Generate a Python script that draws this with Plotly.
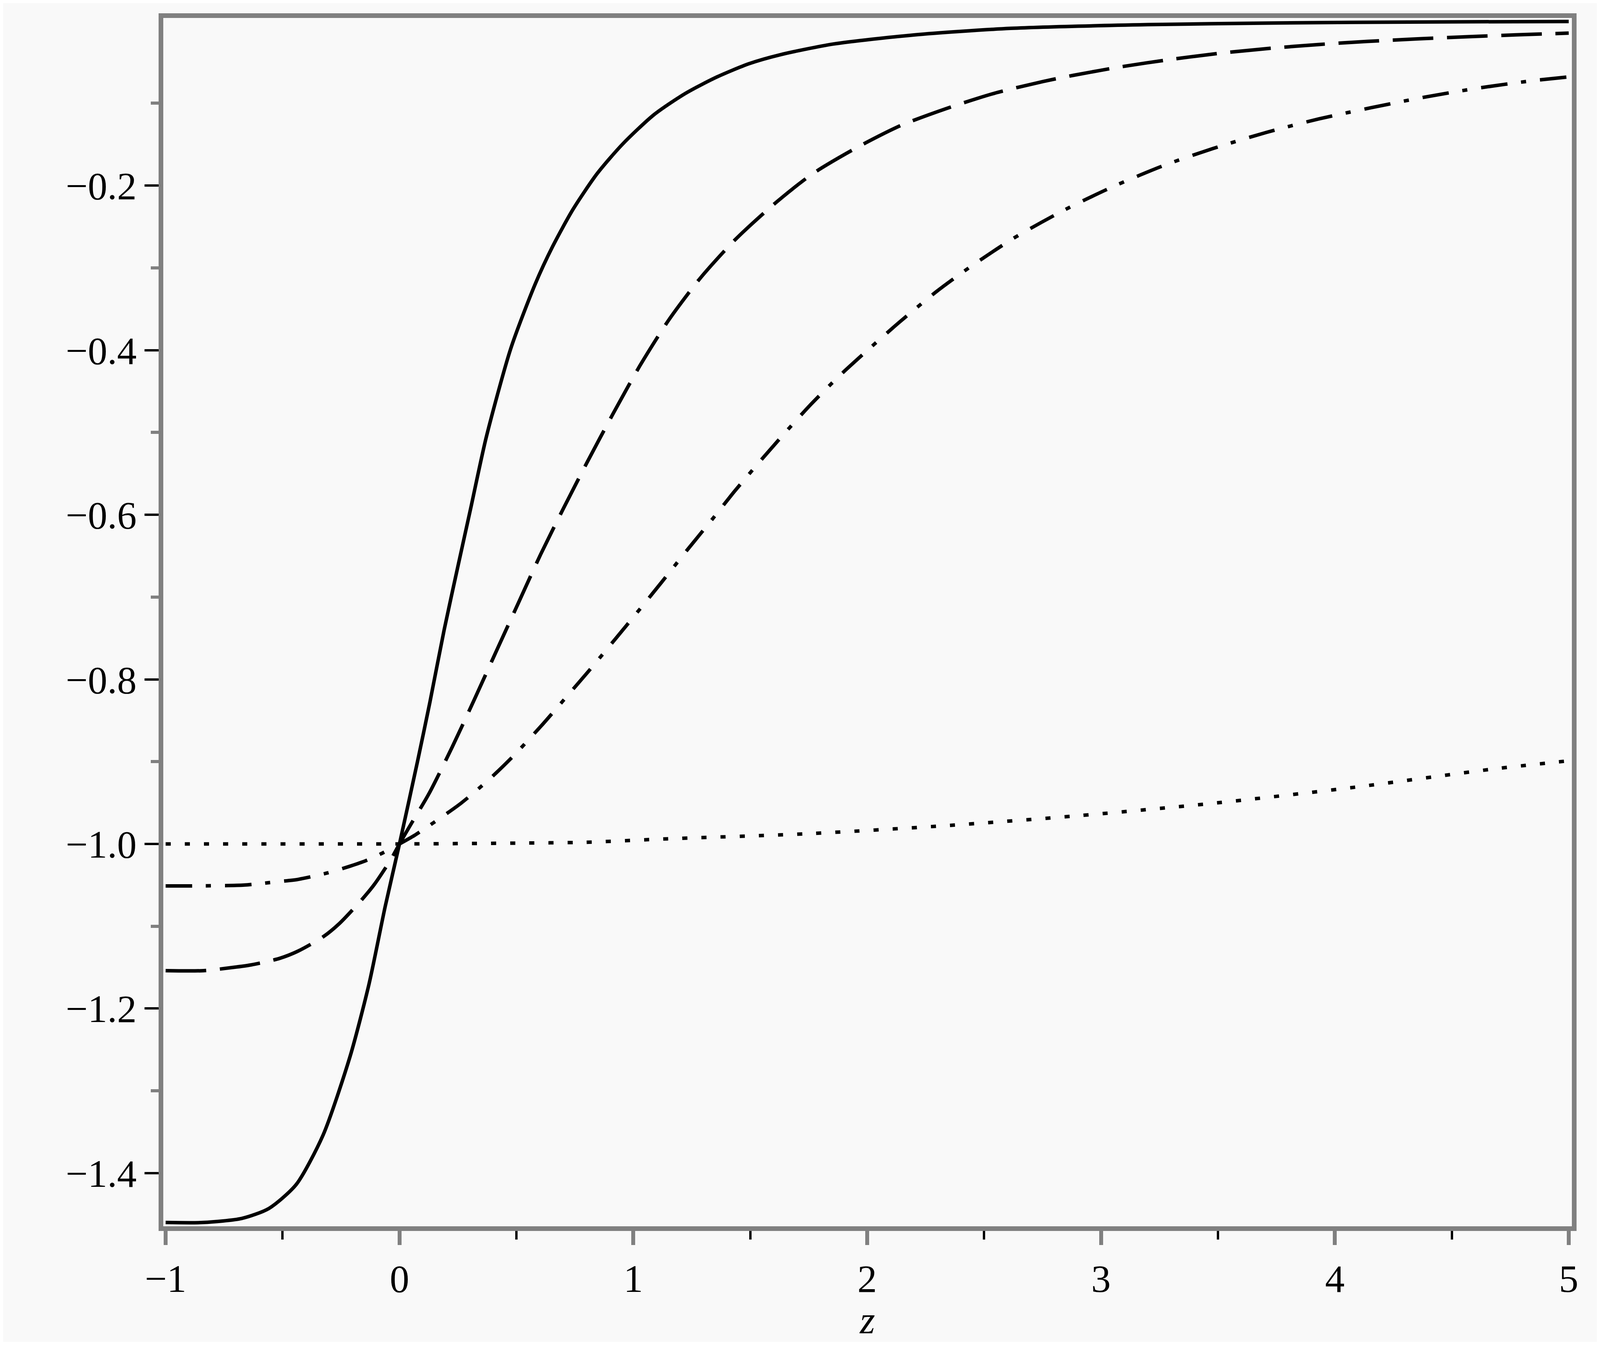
import plotly.graph_objects as go

# ---------------- data ----------------
solid_x = [-1.0, -0.84, -0.674, -0.559, -0.442, -0.327, -0.211, -0.130, -0.061, 0.0,
           0.077, 0.130, 0.191, 0.252, 0.304, 0.371, 0.476, 0.580, 0.655, 0.742,
           0.844, 0.953, 1.088, 1.223, 1.358, 1.494, 1.629, 1.856, 2.2, 2.614,
           3.2, 3.726, 4.4, 5.0]
solid_y = [-1.460, -1.460, -1.455, -1.443, -1.414, -1.354, -1.258, -1.170, -1.076, -1.000,
           -0.900, -0.828, -0.740, -0.660, -0.593, -0.506, -0.398, -0.320, -0.274, -0.229,
           -0.186, -0.150, -0.114, -0.088, -0.068, -0.052, -0.041, -0.028, -0.017, -0.009,
           -0.0045, -0.0025, -0.0012, -0.0006]

dash_x = [-1.0, -0.838, -0.710, -0.635, -0.512, -0.432, -0.327, -0.258, -0.165, -0.107,
          -0.037, 0.0, 0.047, 0.126, 0.226, 0.321, 0.417, 0.512, 0.604, 0.700,
          0.803, 0.912, 1.028, 1.150, 1.285, 1.433, 1.596, 1.765, 1.955, 2.144,
          2.347, 2.543, 2.753, 2.883, 3.090, 3.297, 3.511, 3.726, 3.932, 4.139,
          4.354, 4.559, 4.774, 5.0]
dash_y = [-1.154, -1.154, -1.150, -1.147, -1.139, -1.130, -1.113, -1.097, -1.069, -1.049,
          -1.019, -1.000, -0.977, -0.939, -0.882, -0.824, -0.764, -0.705, -0.648, -0.593,
          -0.536, -0.478, -0.419, -0.364, -0.313, -0.2665, -0.224, -0.186, -0.154, -0.127,
          -0.1056, -0.088, -0.0735, -0.066, -0.0555, -0.0468, -0.0392, -0.0332, -0.0286, -0.0249,
          -0.0218, -0.0193, -0.0169, -0.0148]

dashdot_x = [-1.0, -0.895, -0.664, -0.524, -0.432, -0.304, -0.211, -0.141, -0.072, 0.0,
             0.065, 0.126, 0.261, 0.386, 0.491, 0.608, 0.721, 0.812, 0.926, 1.030,
             1.121, 1.230, 1.339, 1.433, 1.542, 1.650, 1.759, 1.880, 2.002, 2.138,
             2.300, 2.435, 2.624, 2.836, 3.042, 3.265, 3.479, 3.709, 3.932, 4.154,
             4.385, 4.615, 4.845, 5.0]
dashdot_y = [-1.051, -1.051, -1.050, -1.046, -1.043, -1.035, -1.027, -1.020, -1.011, -1.000,
             -0.9895, -0.978, -0.951, -0.921, -0.892, -0.856, -0.819, -0.789, -0.750, -0.714,
             -0.682, -0.643, -0.605, -0.5715, -0.535, -0.500, -0.466, -0.4316, -0.400, -0.366,
             -0.328, -0.300, -0.2644, -0.2308, -0.2025, -0.176, -0.155, -0.1353, -0.119, -0.1055,
             -0.0925, -0.0815, -0.0726, -0.068]

dot_x = [-1.0, -0.5, 0.0, 0.5, 0.795, 1.144, 1.737, 2.325, 2.912, 3.500, 4.088, 4.676, 5.0]
dot_y = [-1.000, -1.000, -1.000, -0.999, -0.998, -0.9938, -0.9877, -0.978, -0.9655, -0.950,
         -0.931, -0.909, -0.899]

x_tick_vals = [-1, 0, 1, 2, 3, 4, 5]
x_tick_text = ["\u22121", "0", "1", "2", "3", "4", "5"]
x_minor_vals = [-0.5, 0.5, 1.5, 2.5, 3.5, 4.5]
y_tick_vals = [-1.4, -1.2, -1.0, -0.8, -0.6, -0.4, -0.2]
y_tick_text = ["\u22121.4", "\u22121.2", "\u22121.0", "\u22120.8", "\u22120.6", "\u22120.4", "\u22120.2"]
y_minor_vals = [-1.3, -1.1, -0.9, -0.7, -0.5, -0.3, -0.1]
x_title = "z"

# ---------------- figure ----------------
BG = "#f9f9f9"
AXIS_GREY = "#808080"
LW = 9
SERIF = "Liberation Serif"

fig = go.Figure()
fig.add_trace(go.Scatter(x=dot_x, y=dot_y, mode="lines", showlegend=False,
                         line=dict(color="black", width=LW, dash="13px,36px", shape="spline", smoothing=0.7)))
fig.add_trace(go.Scatter(x=dashdot_x, y=dashdot_y, mode="lines", showlegend=False,
                         line=dict(color="black", width=LW, dash="68px,35px,13px,36px", shape="spline", smoothing=0.7)))
fig.add_trace(go.Scatter(x=dash_x, y=dash_y, mode="lines", showlegend=False,
                         line=dict(color="black", width=LW, dash="104px,35px", shape="spline", smoothing=0.7)))
fig.add_trace(go.Scatter(x=solid_x, y=solid_y, mode="lines", showlegend=False,
                         line=dict(color="black", width=LW, shape="spline", smoothing=0.7)))

fig.update_layout(
    autosize=True,
    paper_bgcolor=BG, plot_bgcolor=BG,
    margin=dict(l=0, r=0, t=0, b=0, pad=0),
    font=dict(family=SERIF, size=100, color="black"),
)

fig.update_xaxes(
    domain=[0.0903, 0.9883],
    range=[-1.0106, 5.0136],
    showgrid=False, zeroline=False,
    showline=True, linecolor=AXIS_GREY, linewidth=12, mirror=True,
    tickmode="array", tickvals=x_tick_vals, ticktext=x_tick_text,
    ticks="outside", ticklen=36, tickwidth=10, tickcolor=AXIS_GREY,
    tickfont=dict(family=SERIF, size=100, color="black"),
    minor=dict(tickmode="array", tickvals=x_minor_vals, ticks="outside",
               ticklen=22, tickwidth=6, tickcolor="black", showgrid=False),
    title=dict(text="<i>" + x_title + "</i>", standoff=10,
               font=dict(family=SERIF, size=100, color="black")),
)

fig.update_yaxes(
    domain=[0.0864, 0.9889],
    range=[-1.4645, 0.0036],
    showgrid=False, zeroline=False,
    showline=True, linecolor=AXIS_GREY, linewidth=12, mirror=True,
    tickmode="array", tickvals=y_tick_vals, ticktext=y_tick_text,
    ticks="outside", ticklen=36, tickwidth=6, tickcolor="black",
    tickfont=dict(family=SERIF, size=100, color="black"),
    minor=dict(tickmode="array", tickvals=y_minor_vals, ticks="outside",
               ticklen=20, tickwidth=8, tickcolor=AXIS_GREY, showgrid=False),
)

fig.write_html("out.html", default_width="calc(100vw - 16px)", default_height="calc(100vh - 16px)")
